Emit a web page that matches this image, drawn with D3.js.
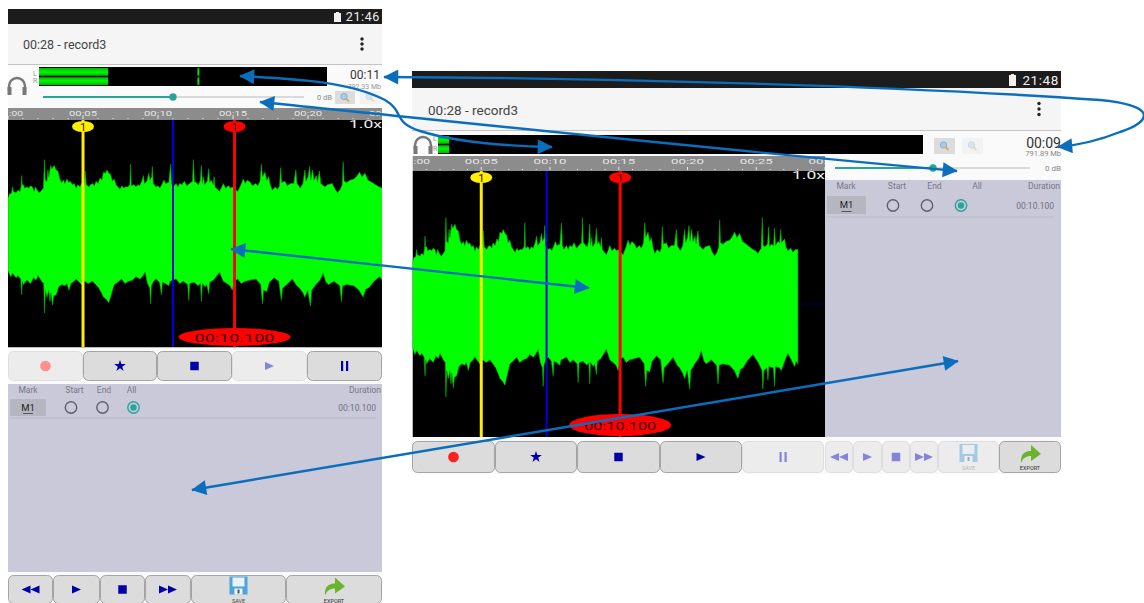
<!DOCTYPE html>
<html>
<head>
<meta charset="utf-8">
<title>record3</title>
<script src="https://cdnjs.cloudflare.com/ajax/libs/d3/7.8.5/d3.min.js"></script>
<style>
  html, body { margin: 0; padding: 0; background: #fff; overflow: hidden; }
  text { font-family: Roboto, "Noto Sans", sans-serif; }
</style>
</head>
<body>
<script>
// Waveform envelope: [seconds, amplitude] (1 = full plot half height)
var topEdge = [[0,.31],[.10,.35],[.18,.35],[.24,.36],[.30,.41],[.36,.37],[.54,.36],[.66,.38],[.80,.37],[.88,.42],[.91,.51],[.95,.43],[1.03,.43],[1.10,.40],[1.27,.41],[1.40,.40],[1.50,.42],[1.63,.41],[1.75,.37],[1.82,.41],[2.00,.37],[2.10,.36],[2.24,.38],[2.36,.40],[2.43,.65],[2.48,.47],[2.60,.46],[2.66,.56],[2.72,.50],[2.85,.60],[2.92,.57],[3.09,.60],[3.20,.56],[3.33,.55],[3.45,.48],[3.57,.45],[3.70,.47],[3.80,.44],[3.93,.48],[4.05,.45],[4.15,.46],[4.30,.43],[4.42,.44],[4.54,.40],[4.66,.43],[4.80,.41],[4.90,.44],[5.02,.42],[5.10,.43],[5.15,.55],[5.22,.43],[5.39,.41],[5.50,.43],[5.63,.44],[5.75,.42],[5.87,.46],[6.00,.44],[6.14,.49],[6.26,.47],[6.36,.54],[6.50,.53],[6.60,.56],[6.72,.53],[6.84,.52],[6.96,.46],[7.08,.48],[7.20,.43],[7.33,.41],[7.45,.39],[7.60,.42],[7.70,.40],[7.81,.41],[7.98,.41],[8.12,.43],[8.17,.61],[8.22,.42],[8.40,.43],[8.52,.41],[8.66,.43],[8.78,.42],[8.92,.46],[9.02,.51],[9.10,.44],[9.26,.46],[9.38,.53],[9.46,.47],[9.58,.50],[9.62,.59],[9.68,.44],[9.87,.41],[10.00,.42],[10.12,.40],[10.25,.43],[10.40,.47],[10.50,.44],[10.72,.45],[10.84,.61],[10.90,.44],[11.00,.41],[11.20,.44],[11.32,.41],[11.44,.44],[11.60,.43],[11.75,.46],[11.93,.42],[12.10,.44],[12.30,.46],[12.36,.65],[12.42,.46],[12.53,.45],[12.70,.43],[12.82,.47],[12.89,.60],[12.95,.44],[13.04,.50],[13.10,.43],[13.28,.46],[13.38,.57],[13.44,.45],[13.55,.47],[13.68,.43],[13.74,.50],[13.80,.41],[13.95,.39],[14.10,.37],[14.25,.41],[14.35,.44],[14.50,.40],[14.70,.42],[14.83,.40],[15.00,.41],[15.15,.39],[15.31,.37],[15.50,.42],[15.68,.48],[15.82,.44],[15.95,.47],[16.16,.45],[16.30,.42],[16.50,.44],[16.65,.42],[16.80,.46],[16.89,.61],[16.96,.50],[17.13,.54],[17.25,.47],[17.37,.50],[17.50,.42],[17.62,.38],[17.80,.41],[17.98,.39],[18.10,.42],[18.17,.58],[18.24,.45],[18.46,.46],[18.62,.42],[18.83,.44],[19.05,.44],[19.19,.56],[19.26,.44],[19.48,.40],[19.66,.44],[19.79,.56],[19.86,.46],[20.00,.50],[20.11,.59],[20.18,.47],[20.30,.56],[20.40,.47],[20.55,.51],[20.62,.45],[20.76,.55],[20.85,.44],[21.13,.41],[21.30,.43],[21.61,.44],[21.80,.39],[21.97,.36],[22.15,.39],[22.28,.43],[22.34,.63],[22.40,.46],[22.58,.45],[22.80,.47],[23.06,.48],[23.22,.50],[23.43,.54],[23.60,.50],[23.79,.53],[24.00,.47],[24.27,.45],[24.50,.43],[24.76,.41],[24.95,.40],[25.12,.38],[25.36,.42],[25.44,.65],[25.50,.44],[25.61,.43],[25.82,.45],[25.90,.58],[25.96,.43],[26.09,.45],[26.26,.44],[26.33,.57],[26.40,.44],[26.58,.47],[26.70,.46],[26.77,.56],[26.84,.46],[27.06,.49],[27.16,.43],[27.30,.40],[27.50,.42],[27.67,.39],[27.85,.41],[28.03,.41]];
var botEdge = [[0,.33],[.18,.38],[.30,.35],[.54,.39],[.66,.37],[.85,.40],[.91,.54],[.96,.42],[1.03,.45],[1.25,.41],[1.51,.44],[1.70,.39],[1.88,.41],[2.00,.37],[2.24,.42],[2.38,.44],[2.43,.70],[2.49,.50],[2.60,.56],[2.72,.50],[2.80,.60],[2.86,.52],[2.97,.63],[3.05,.55],[3.21,.54],[3.38,.47],[3.57,.45],[3.80,.46],[3.92,.44],[4.06,.50],[4.20,.44],[4.40,.42],[4.54,.40],[4.75,.43],[4.90,.45],[5.10,.42],[5.35,.44],[5.63,.42],[5.85,.45],[6.05,.48],[6.22,.52],[6.36,.56],[6.55,.58],[6.72,.61],[6.85,.55],[7.08,.45],[7.30,.43],[7.57,.40],[7.80,.44],[8.05,.42],[8.30,.41],[8.53,.38],[8.80,.40],[9.00,.37],[9.14,.34],[9.30,.44],[9.45,.48],[9.50,.62],[9.56,.46],[9.70,.42],[9.87,.40],[10.10,.43],[10.23,.54],[10.29,.43],[10.50,.44],[10.72,.46],[10.80,.42],[11.20,.40],[11.45,.44],[11.68,.42],[11.98,.45],[12.05,.59],[12.11,.44],[12.41,.43],[12.68,.46],[12.83,.44],[12.89,.60],[12.95,.44],[13.15,.47],[13.25,.45],[13.38,.53],[13.44,.43],[13.70,.41],[14.10,.34],[14.35,.42],[14.59,.44],[14.80,.46],[14.95,.50],[15.10,.42],[15.31,.40],[15.55,.44],[15.80,.42],[16.15,.41],[16.52,.40],[16.85,.45],[16.96,.62],[17.04,.50],[17.25,.51],[17.42,.43],[17.74,.39],[18.05,.42],[18.22,.59],[18.30,.48],[18.58,.45],[18.95,.40],[19.25,.46],[19.43,.48],[19.65,.52],[19.79,.56],[19.98,.50],[20.16,.64],[20.24,.50],[20.52,.45],[20.80,.41],[21.00,.35],[21.20,.43],[21.37,.45],[21.73,.42],[22.12,.46],[22.22,.60],[22.30,.46],[22.58,.45],[23.06,.46],[23.40,.50],[23.67,.56],[23.85,.49],[24.03,.48],[24.40,.42],[24.76,.38],[25.15,.44],[25.42,.50],[25.48,.64],[25.56,.50],[25.78,.48],[25.85,.57],[25.92,.47],[26.25,.48],[26.33,.62],[26.40,.47],[26.70,.48],[26.82,.50],[27.10,.42],[27.30,.37],[27.55,.42],[27.79,.47],[27.90,.43],[28.03,.45]];

var rulerSeconds = [0,5,10,15,20,25,30];
var rulerLabels = [":00","00:05","00:10","00:15","00:20","00:25","00:30"];
var rulerMinor = d3.range(0, 31);

var listHeaders = ["Mark","Start","End","All","Duration"];
var markName = "M1";
var markDuration = "00:10.100";
var markStart = 5, markEnd = 15.1;

var width = 1144, height = 603;
var BLUE = "#0b6ebd", NAVY = "#0000a8", TEAL = "#26a69a";

var svg = d3.select("body").append("svg")
  .attr("width", width).attr("height", height)
  .style("display", "block");

var defs = svg.append("defs");
defs.append("marker").attr("id", "head")
  .attr("viewBox", "0 0 10 10").attr("refX", 9.5).attr("refY", 5)
  .attr("markerUnits", "userSpaceOnUse")
  .attr("markerWidth", 16).attr("markerHeight", 15)
  .attr("orient", "auto-start-reverse")
  .append("path").attr("d", "M0,0L10,5L0,10Z").attr("fill", BLUE);

var meterGrad = defs.append("linearGradient").attr("id", "meterGreen")
  .attr("x1", 0).attr("x2", 0).attr("y1", 0).attr("y2", 1);
[[0, "#00b800"], [.25, "#00f800"], [.42, "#00c000"], [.5, "#000800"], [.58, "#00c000"], [.75, "#00f800"], [1, "#00b800"]].forEach(function(s) {
  meterGrad.append("stop").attr("offset", s[0]).attr("stop-color", s[1]);
});

function label(g, x, y, str, size, color, anchor) {
  return g.append("text").attr("x", x).attr("y", y).text(str)
    .attr("font-size", size).attr("fill", color)
    .attr("text-anchor", anchor || "start");
}

function rect(g, x, y, w, h, fill) {
  return g.append("rect").attr("x", x).attr("y", y).attr("width", w).attr("height", h).attr("fill", fill);
}

function statusBar(g, x0, x1, y0, y1, time, size, batX) {
  rect(g, x0, y0, x1 - x0, y1 - y0, "#1c1c1c");
  label(g, x1 - 2, y1 - 3, time, size, "#f0f0f0", "end").attr("letter-spacing", .6);
  rect(g, batX, y0 + 4, 7, y1 - y0 - 6, "#f0f0f0");
  rect(g, batX + 2, y0 + 3, 3, 1, "#f0f0f0");
}

function dots(g, x, y, gap) {
  [-gap, 0, gap].forEach(function(d) {
    g.append("circle").attr("cx", x).attr("cy", y + d).attr("r", 1.7).attr("fill", "#222");
  });
}

function headphones(g, x, y) {
  g.append("path")
    .attr("d", "M" + (x - 8) + "," + (y + 5) + "v-5a8,8 0 0 1 16,0v5")
    .attr("fill", "none").attr("stroke", "#777").attr("stroke-width", 2.4);
  rect(g, x - 9.5, y + 1, 4, 8, "#777");
  rect(g, x + 5.5, y + 1, 4, 8, "#777");
}

function zoomBtn(g, x, y, w, h, bg, opacity) {
  rect(g, x, y, w, h, bg);
  g.append("circle").attr("cx", x + w / 2 - 1).attr("cy", y + h / 2 - 1).attr("r", 3.2)
    .attr("fill", "#a9cbe8").attr("stroke", "#8fb0cc").attr("opacity", opacity);
  g.append("line").attr("x1", x + w / 2 + 1).attr("y1", y + h / 2 + 1).attr("x2", x + w / 2 + 4).attr("y2", y + h / 2 + 4)
    .attr("stroke", "#d6a24a").attr("stroke-width", 1.5).attr("opacity", opacity);
}

function slider(g, x0, x1, xHandle, y) {
  g.append("line").attr("x1", x0).attr("x2", x1).attr("y1", y).attr("y2", y).attr("stroke", "#cfcfcf").attr("stroke-width", 1.5);
  g.append("line").attr("x1", x0).attr("x2", xHandle).attr("y1", y).attr("y2", y).attr("stroke", TEAL).attr("stroke-width", 2);
  g.append("circle").attr("cx", xHandle).attr("cy", y).attr("r", 3.7).attr("fill", TEAL);
}

// ruler + black plot + waveform + marker flags
function wavePanel(g, id, o) {
  var x = d3.scaleLinear().domain(o.domain).range([o.x0, o.x1]);
  var y = d3.scaleLinear().domain([-1, 1]).range([o.plotBottom, o.plotTop]);

  defs.append("clipPath").attr("id", id)
    .append("rect").attr("x", o.x0).attr("y", o.rulerTop)
    .attr("width", o.x1 - o.x0).attr("height", o.plotBottom - o.rulerTop);

  var p = g.append("g").attr("clip-path", "url(#" + id + ")");
  rect(p, o.x0, o.rulerTop, o.x1 - o.x0, o.plotTop - o.rulerTop, "#8c8c8c");

  p.append("g").selectAll("line").data(rulerMinor).enter().append("line")
    .attr("x1", function(d) { return x(d); }).attr("x2", function(d) { return x(d); })
    .attr("y1", function(d) { return o.plotTop - (d % 5 === 0 ? 4 : 2); })
    .attr("y2", o.plotTop - 1)
    .attr("stroke", "#e8e8e8").attr("stroke-width", 1);

  // only the labels that fall inside this panel; the first one is already cut to ":00"
  var shown = rulerSeconds.filter(function(d) { return d <= o.domain[1] + 1; });
  p.append("g").selectAll("text").data(shown).enter().append("text")
    .attr("x", function(d) { return d === 0 ? o.x0 + 1 : x(d); })
    .attr("y", o.rulerTop + 7.5)
    .attr("text-anchor", function(d) { return d === 0 ? "start" : "middle"; })
    .attr("font-size", 8)
    .attr("textLength", function(d) { return d === 0 ? o.labelLen * .5 : o.labelLen; })
    .attr("lengthAdjust", "spacingAndGlyphs")
    .attr("fill", "#e6e6e6")
    .text(function(d) { return rulerLabels[rulerSeconds.indexOf(d)]; });

  rect(p, o.x0, o.plotTop, o.x1 - o.x0, o.plotBottom - o.plotTop, "#000");

  p.append("line").attr("x1", o.x0).attr("x2", o.x1).attr("y1", y(0)).attr("y2", y(0))
    .attr("stroke", "#00005a").attr("stroke-width", 1);

  // the two edges are read separately, so draw a polygon top edge then bottom edge back
  var edge = d3.line().x(function(d) { return x(d[0]); }).y(function(d) { return y(d[1]); });
  var outline = topEdge.concat(botEdge.map(function(d) { return [d[0], -d[1]]; }).reverse());
  p.append("path").attr("d", edge(outline) + "Z")
    .attr("fill", "#00ff00").attr("stroke", "#00a800").attr("stroke-width", .6);

  p.append("line").attr("x1", x(markStart)).attr("x2", x(markStart)).attr("y1", o.plotTop).attr("y2", o.plotBottom)
    .attr("stroke", "#ffee00").attr("stroke-width", 3);
  p.append("line").attr("x1", x(o.playhead)).attr("x2", x(o.playhead)).attr("y1", o.plotTop).attr("y2", o.plotBottom)
    .attr("stroke", "#0000e0").attr("stroke-width", 2);
  p.append("line").attr("x1", x(markEnd)).attr("x2", x(markEnd)).attr("y1", o.plotTop).attr("y2", o.plotBottom)
    .attr("stroke", "#ff0000").attr("stroke-width", 3);

  [[markStart, "#ffee00"], [markEnd, "#ff0000"]].forEach(function(m) {
    p.append("ellipse").attr("cx", x(m[0])).attr("cy", o.plotTop + 6.5).attr("rx", 11).attr("ry", 5.5).attr("fill", m[1]);
    label(p, x(m[0]), o.plotTop + 10.5, "1", 11, "#222", "middle");
  });

  p.append("ellipse").attr("cx", x(markEnd)).attr("cy", o.pillY).attr("rx", o.pillRx).attr("ry", o.pillRy).attr("fill", "#ff0000");
  label(p, x(markEnd), o.pillY + 4.5, markDuration, o.pillFont, "#3a0000", "middle")
    .attr("textLength", o.pillLen).attr("lengthAdjust", "spacingAndGlyphs");

  label(p, o.zoomX, o.plotTop + 8, "1.0x", 11, "#eee", "end")
    .attr("textLength", 33).attr("lengthAdjust", "spacingAndGlyphs");
}

function radio(g, x, y, on) {
  g.append("circle").attr("cx", x).attr("cy", y).attr("r", 5.7)
    .attr("fill", "none").attr("stroke", on ? TEAL : "#5f5f68").attr("stroke-width", 1.4);
  if (on) g.append("circle").attr("cx", x).attr("cy", y).attr("r", 3.2).attr("fill", TEAL);
}

function markList(g, o) {
  rect(g, o.x0, o.y0, o.x1 - o.x0, o.y1 - o.y0, "#c9c9d9");
  listHeaders.forEach(function(h, i) {
    label(g, o.heads[i], o.headY, h, 8.5, "#77778a", i === 4 ? "end" : "middle");
  });
  rect(g, o.btn[0], o.btn[1], o.btn[2], o.btn[3], "#b6b6c0");
  label(g, o.btn[0] + o.btn[2] / 2, o.btn[1] + 12, markName, 9.5, "#222", "middle");
  rect(g, o.btn[0] + o.btn[2] / 2 - 5, o.btn[1] + o.btn[3] - 3, 10, 1, "#555");
  radio(g, o.radios[0], o.rowY, false);
  radio(g, o.radios[1], o.rowY, false);
  radio(g, o.radios[2], o.rowY, true);
  label(g, o.durX, o.rowY + 3, markDuration, 8.5, "#70707f", "end");
  g.append("line").attr("x1", o.x0 + 2).attr("x2", o.durX).attr("y1", o.lineY).attr("y2", o.lineY)
    .attr("stroke", "#b9b9c8");
}

function sym(g, type, size, x, y, color) {
  g.append("path").attr("d", d3.symbol().type(type).size(size)())
    .attr("transform", "translate(" + x + "," + y + ")").attr("fill", color);
}

function tri(g, x, y, w, h, color, flip) {
  var s = flip ? -1 : 1;
  g.append("path").attr("d", "M" + (x - s * w / 2) + "," + (y - h / 2) + "L" + (x + s * w / 2) + "," + y + "L" + (x - s * w / 2) + "," + (y + h / 2) + "Z")
    .attr("fill", color);
}

function icon(g, name, cx, cy, off) {
  var c = off ? "#8484dc" : NAVY;
  if (name === "rec") sym(g, d3.symbolCircle, 90, cx, cy, off ? "#ff9090" : "#ff2020");
  if (name === "star") sym(g, d3.symbolStar, 42, cx, cy, c);
  if (name === "stop") sym(g, d3.symbolSquare, 72, cx, cy, c);
  if (name === "play") tri(g, cx, cy, 9, 8, c);
  if (name === "pause") { rect(g, cx - 3.5, cy - 5, 2.2, 10, c); rect(g, cx + 1.5, cy - 5, 2.2, 10, c); }
  if (name === "rew") { tri(g, cx - 4.5, cy, 9, 8, c, true); tri(g, cx + 4.5, cy, 9, 8, c, true); }
  if (name === "ffw") { tri(g, cx - 4.5, cy, 9, 8, c); tri(g, cx + 4.5, cy, 9, 8, c); }
  if (name === "save") {
    var s = g.append("g").attr("opacity", off ? .45 : 1);
    rect(s, cx - 9, cy - 14, 18, 18, "#4da3dc");
    rect(s, cx - 6, cy - 13, 12, 9, "#e8f2fa");
    rect(s, cx - 4, cy - 2, 8, 6, "#f4f4f4");
    rect(s, cx - 1, cy - 1, 2, 4, "#555");
    label(g, cx, cy + 12, "SAVE", 5.5, off ? "#bbb" : "#444", "middle");
  }
  if (name === "export") {
    g.append("path")
      .attr("d", "M" + (cx - 9) + "," + (cy + 5) + "C" + (cx - 10) + "," + (cy - 5) + " " + (cx - 4) + "," + (cy - 7) + " " + (cx + 1) + "," + (cy - 7)
        + "V" + (cy - 13) + "L" + (cx + 11) + "," + (cy - 4) + "L" + (cx + 1) + "," + (cy + 3) + "V" + (cy - 2)
        + "C" + (cx - 4) + "," + (cy - 2) + " " + (cx - 7) + "," + cy + " " + (cx - 9) + "," + (cy + 5) + "Z")
      .attr("fill", "#69b32e");
    label(g, cx, cy + 12, "EXPORT", 5.5, "#333", "middle");
  }
}

// [x0, x1, icon, disabled]
function buttonRow(g, y0, y1, list) {
  list.forEach(function(b) {
    var off = b[3];
    g.append("rect").attr("x", b[0] + .5).attr("y", y0 + .5)
      .attr("width", b[1] - b[0] - 1).attr("height", y1 - y0 - 1).attr("rx", 5)
      .attr("fill", off ? "#ececec" : "#dcdcdc")
      .attr("stroke", off ? "#dedede" : "#a4a4a4").attr("stroke-width", 1);
    icon(g, b[2], (b[0] + b[1]) / 2, (y0 + y1) / 2 + (b[2] === "save" || b[2] === "export" ? 1 : 0), off);
  });
}

// ---------- left screenshot ----------
var left = svg.append("g");
rect(left, 8, 24, 374, 579, "#fafafa");
statusBar(left, 8, 382, 9, 24, "21:46", 12.5, 334);
rect(left, 8, 24, 374, 40, "#f5f5f5");
rect(left, 8, 64, 374, 1, "#c4c4c4");
label(left, 23, 49, "00:28 - record3", 12.5, "#444");
dots(left, 362, 44, 5);
headphones(left, 17, 86);
label(left, 33, 76, "L", 7, "#999");
label(left, 33, 83, "R", 7, "#999");
var meterL = d3.scaleLinear().domain([0, 1]).range([39, 327]);
rect(left, 39, 67, 288, 19, "#000");
rect(left, meterL(0), 68, meterL(.24) - meterL(0), 17, "url(#meterGreen)");
rect(left, meterL(.55), 68, 2, 17, "url(#meterGreen)");
label(left, 380, 79, "00:11", 12, "#333", "end");
label(left, 381, 89, "792.33 Mb", 7, "#999", "end");
slider(left, 43, 304, 173, 97);
label(left, 332, 100, "0 dB", 7.5, "#888", "end");
zoomBtn(left, 335, 91, 20, 13, "#dcdcdc", 1);
zoomBtn(left, 360, 91, 20, 13, "#f2f2f2", .35);

wavePanel(left, "clipL", {
  domain: [0, 24.93], x0: 8, x1: 382, rulerTop: 108, plotTop: 120, plotBottom: 347,
  playhead: 11, labelLen: 28, pillY: 337, pillRx: 56, pillRy: 9, pillFont: 10, pillLen: 80, zoomX: 382
});
rect(left, 8, 347, 374, 1, "#bbb");

buttonRow(left, 351, 381, [
  [8, 83, "rec", true], [83, 157, "star", false], [157, 232, "stop", false],
  [232, 307, "play", true], [307, 382, "pause", false]
]);
markList(left, {
  x0: 8, x1: 382, y0: 384, y1: 572, heads: [28, 74.5, 104, 131.5, 381], headY: 393,
  btn: [10, 399, 36, 17], radios: [71, 102.5, 133.5], rowY: 407.5, durX: 376, lineY: 418
});
buttonRow(left, 575, 604, [
  [8, 53, "rew", false], [53, 100, "play", false], [100, 145, "stop", false],
  [145, 191, "ffw", false], [191, 286, "save", false], [286, 382, "export", false]
]);

// ---------- right screenshot ----------
var right = svg.append("g");
rect(right, 412, 88, 649, 386, "#fafafa");
statusBar(right, 412, 1061, 71, 88, "21:48", 13.5, 1009);
rect(right, 412, 88, 649, 42, "#f5f5f5");
rect(right, 412, 130, 649, 1, "#c4c4c4");
label(right, 428, 115, "00:28 - record3", 13.5, "#444");
dots(right, 1039, 109, 5.5);
headphones(right, 423, 145);
label(right, 433, 141, "L", 7, "#999");
label(right, 433, 151, "R", 7, "#999");
var meterR = d3.scaleLinear().domain([0, 1]).range([438, 923]);
rect(right, 438, 135, 485, 19, "#000");
rect(right, meterR(0), 136, meterR(.023) - meterR(0), 17, "url(#meterGreen)");
zoomBtn(right, 934, 138, 21, 16, "#dcdcdc", 1);
zoomBtn(right, 962, 138, 21, 16, "#f2f2f2", .35);
label(right, 1061, 148, "00:09", 14, "#333", "end");
label(right, 1061, 156, "791.89 Mb", 7.5, "#888", "end");
slider(right, 835, 1030, 933, 168);
label(right, 1061, 171, "0 dB", 8, "#888", "end");

wavePanel(right, "clipR", {
  domain: [0, 30], x0: 412.5, x1: 825, rulerTop: 156, plotTop: 171, plotBottom: 437,
  playhead: 9.75, labelLen: 33, pillY: 425, pillRx: 51, pillRy: 11, pillFont: 11, pillLen: 72, zoomX: 825
});

markList(right, {
  x0: 825, x1: 1061, y0: 180, y1: 437, heads: [846, 897, 934.5, 977, 1060], headY: 189,
  btn: [827, 196, 39, 18], radios: [893, 927, 961], rowY: 205.5, durX: 1054, lineY: 217
});
buttonRow(right, 441, 473, [
  [412, 495, "rec", false], [495, 577, "star", false], [577, 660, "stop", false],
  [660, 742, "play", false], [742, 824, "pause", true], [825, 853, "rew", true],
  [853, 882, "play", true], [882, 910, "stop", true], [910, 938, "ffw", true],
  [938, 999, "save", true], [999, 1061, "export", false]
]);

// ---------- annotation arrows ----------
var arrows = [
  "M240,76C300,79 350,82 385,100C405,112 392,122 420,131C455,142 500,146 552,147",
  "M260,102C420,118 700,148 957,171",
  "M384,77C620,78 900,86 1100,100C1160,106 1150,122 1120,132C1100,140 1080,145 1058,147",
  "M231,249L589,288",
  "M192,490L958,361"
];
svg.append("g").selectAll("path").data(arrows).enter().append("path")
  .attr("d", function(d) { return d; })
  .attr("fill", "none").attr("stroke", BLUE).attr("stroke-width", 2.4)
  .attr("marker-start", "url(#head)").attr("marker-end", "url(#head)");
</script>
</body>
</html>
